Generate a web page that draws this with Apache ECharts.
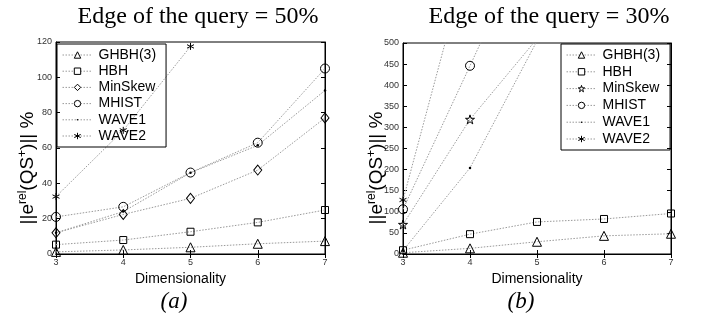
<!DOCTYPE html>
<html>
<head>
<meta charset="utf-8">
<script src="https://cdn.jsdelivr.net/npm/echarts@6/dist/echarts.min.js"></script>
<style>
html,body{margin:0;padding:0;background:#fff;}
#c{width:703px;height:322px;}
</style>
</head>
<body>
<div id="c"></div>
<script>
// ---- data ----
const dims = [3, 4, 5, 6, 7];
const seriesNames = ['GHBH(3)', 'HBH', 'MinSkew', 'MHIST', 'WAVE1', 'WAVE2'];
const yTicksA = [0, 20, 40, 60, 80, 100, 120];
const yTicksB = [0, 50, 100, 150, 200, 250, 300, 350, 400, 450, 500];
const titleA = 'Edge of the query = 50%';
const titleB = 'Edge of the query = 30%';
const xName = 'Dimensionality';

// (a) edge of the query = 50%
const ghbhA = [1.2, 2.3, 3.8, 5.8, 7.3];
const hbhA = [5.3, 7.9, 12.6, 17.9, 24.9];
const minskewA = [12, 22.4, 31.5, 47.5, 77];
const mhistA = [21, 26.7, 46.1, 63, 105];
const wave1A = [12, 24, 46, 61.5, 92.6];
const wave2A = [32.5, 70, 117.5, null, null];

// (b) edge of the query = 30%
const ghbhB = [3, 13.4, 29, 43, 48];
const hbhB = [9, 47, 76, 83, 96];
const minskewB = [70, 319, 510, null, null];
const mhistB = [106, 446, 790, null, null];
const wave1B = [8, 204, 505, null, null];
const wave2B = [128, 720, null, null, null];

// ---- styling ----
const star = 'path://M0,-100L22.45,-30.9L95.1,-30.9L36.3,11.8L58.8,80.9L0,38.2L-58.8,80.9L-36.3,11.8L-95.1,-30.9L-22.45,-30.9Z';
const aster = 'path://M0,-10L0,10M-8.66,-5L8.66,5M-8.66,5L8.66,-5';
const dot = 'path://M-4,-4M4,4M-1,0A1,1 0 1,0 1,0A1,1 0 1,0 -1,0Z';
const hollow = {color: 'rgba(0,0,0,0)', borderColor: '#000', borderWidth: 1};
const legHollow = {color: '#fff', borderColor: '#000', borderWidth: 1};
const solid = {color: '#000', borderWidth: 0};
const markA = [
  {symbol: 'triangle', size: 9, item: hollow, leg: legHollow},
  {symbol: 'rect', size: 7, item: hollow, leg: legHollow},
  {symbol: 'diamond', size: [8, 10], item: hollow, leg: legHollow},
  {symbol: 'circle', size: 9, item: hollow, leg: legHollow},
  {symbol: dot, size: 10, item: solid, leg: solid},
  {symbol: aster, size: 7, item: hollow, leg: legHollow}
];
const markB = markA.slice();
markB[2] = {symbol: star, size: 9, item: hollow, leg: legHollow};

function pairs(v) { return dims.map((d, i) => [d, v[i]]); }

const dataA = [ghbhA, hbhA, minskewA, mhistA, wave1A, wave2A];
const dataB = [ghbhB, hbhB, minskewB, mhistB, wave1B, wave2B];
const suffixB = '\u200b';
const lineSt = {color: '#9a9a9a', width: 1, type: [1.5, 1.5]};

const series = [];
function addSeries(data, marks, xi, yi, suffix) {
  data.forEach((v, i) => {
    series.push({
      type: 'line',
      name: seriesNames[i] + suffix,
      xAxisIndex: xi, yAxisIndex: yi,
      data: pairs(v),
      symbol: marks[i].symbol,
      symbolSize: marks[i].size,
      showSymbol: true,
      connectNulls: false,
      clip: true,
      animation: false,
      lineStyle: lineSt,
      itemStyle: marks[i].item,
      emphasis: {disabled: true}
    });
  });
}
addSeries(dataA, markA, 0, 0, '');
addSeries(dataB, markB, 2, 2, suffixB);

const tickLabel = {fontFamily: 'Liberation Sans, Arial', fontSize: 9, color: '#333'};
function xAxisPair(gi, nameOpts) {
  return [
    Object.assign({
      type: 'value', gridIndex: gi, min: 3, max: 7, interval: 1, position: 'bottom',
      axisLine: {lineStyle: {color: '#000', width: 1}},
      axisTick: {inside: true, length: 4, lineStyle: {color: '#000'}},
      axisLabel: Object.assign({margin: 4}, tickLabel),
      splitLine: {show: false},
      nameLocation: 'middle', nameGap: 16,
      nameTextStyle: {fontFamily: 'Liberation Sans, Arial', fontSize: 14, color: '#000'}
    }, nameOpts),
    {
      type: 'value', gridIndex: gi, min: 3, max: 7, interval: 1, position: 'top',
      axisLine: {lineStyle: {color: '#000', width: 1}},
      axisTick: {inside: true, length: 4, lineStyle: {color: '#000'}},
      axisLabel: {show: false}, splitLine: {show: false}
    }
  ];
}
function yAxisPair(gi, max, interval) {
  return [
    {
      type: 'value', gridIndex: gi, min: 0, max: max, interval: interval, position: 'left',
      axisLine: {show: true, lineStyle: {color: '#000', width: 1}},
      axisTick: {show: true, inside: true, length: 4, lineStyle: {color: '#000'}},
      axisLabel: Object.assign({margin: 4}, tickLabel),
      splitLine: {show: false}
    },
    {
      type: 'value', gridIndex: gi, min: 0, max: max, interval: interval, position: 'right',
      axisLine: {show: true, lineStyle: {color: '#000', width: 1}},
      axisTick: {show: true, inside: true, length: 4, lineStyle: {color: '#000'}},
      axisLabel: {show: false}, splitLine: {show: false}
    }
  ];
}

function legendFor(suffix, marks, left, top, gap) {
  return {
    orient: 'vertical', left: left, top: top,
    data: seriesNames.map((n, i) => ({name: n + suffix, itemStyle: marks[i].leg, lineStyle: lineSt})),
    formatter: n => n.replace(suffixB, ''),
    itemWidth: 30, itemHeight: 8, itemGap: gap,
    backgroundColor: 'rgba(0,0,0,0)',
    borderColor: '#000', borderWidth: 1,
    padding: [3, 10, 3, 5],
    selectedMode: false,
    textStyle: {fontFamily: 'Liberation Sans, Arial', fontSize: 14, color: '#000', lineHeight: 16, padding: [0, 0, 0, 1]}
  };
}

const yName = '{n|||e}{s|rel}{n|(QS}{s|+}{n|)|| %}';
const yRich = {
  n: {fontFamily: 'Liberation Sans, Arial', fontSize: 19, color: '#000', verticalAlign: 'bottom', lineHeight: 20},
  s: {fontFamily: 'Liberation Sans, Arial', fontSize: 12, color: '#000', verticalAlign: 'top', lineHeight: 12}
};
const serif = 'Liberation Serif, Times New Roman, serif';

const option = {
  backgroundColor: '#fff',
  animation: false,
  grid: [
    {left: 56, right: 378, top: 42, bottom: 68, show: true, borderColor: '#000', borderWidth: 1, backgroundColor: 'rgba(0,0,0,0)'},
    {left: 403, right: 32, top: 43, bottom: 68, show: true, borderColor: '#000', borderWidth: 1, backgroundColor: 'rgba(0,0,0,0)'}
  ],
  xAxis: [].concat(
    xAxisPair(0, {name: xName, nameTextStyle: {fontFamily: 'Liberation Sans, Arial', fontSize: 14, color: '#000', padding: [0, 20, 0, 0]}}),
    xAxisPair(1, {name: xName})
  ),
  yAxis: [].concat(yAxisPair(0, 120, 20), yAxisPair(1, 500, 50)),
  legend: [legendFor('', markA, 57, 44, 0.2), legendFor(suffixB, markB, 561, 44, 0.8)],
  series: series,
  graphic: [
    {type: 'text', x: 198, y: 17, style: {text: titleA, font: '24px ' + serif, fill: '#000', align: 'center', verticalAlign: 'middle'}},
    {type: 'text', x: 549, y: 17, style: {text: titleB, font: '24px ' + serif, fill: '#000', align: 'center', verticalAlign: 'middle'}},
    {type: 'text', x: 27, y: 168, rotation: Math.PI / 2, style: {text: yName, rich: yRich, align: 'center', verticalAlign: 'middle'}},
    {type: 'text', x: 376, y: 168, rotation: Math.PI / 2, style: {text: yName, rich: yRich, align: 'center', verticalAlign: 'middle'}},
    {type: 'text', x: 174, y: 302, style: {text: '(a)', font: 'italic 23px ' + serif, fill: '#000', align: 'center', verticalAlign: 'middle'}},
    {type: 'text', x: 521, y: 302, style: {text: '(b)', font: 'italic 23px ' + serif, fill: '#000', align: 'center', verticalAlign: 'middle'}}
  ]
};

const chart = echarts.init(document.getElementById('c'), null, {renderer: 'canvas'});
chart.setOption(option);
</script>
</body>
</html>
